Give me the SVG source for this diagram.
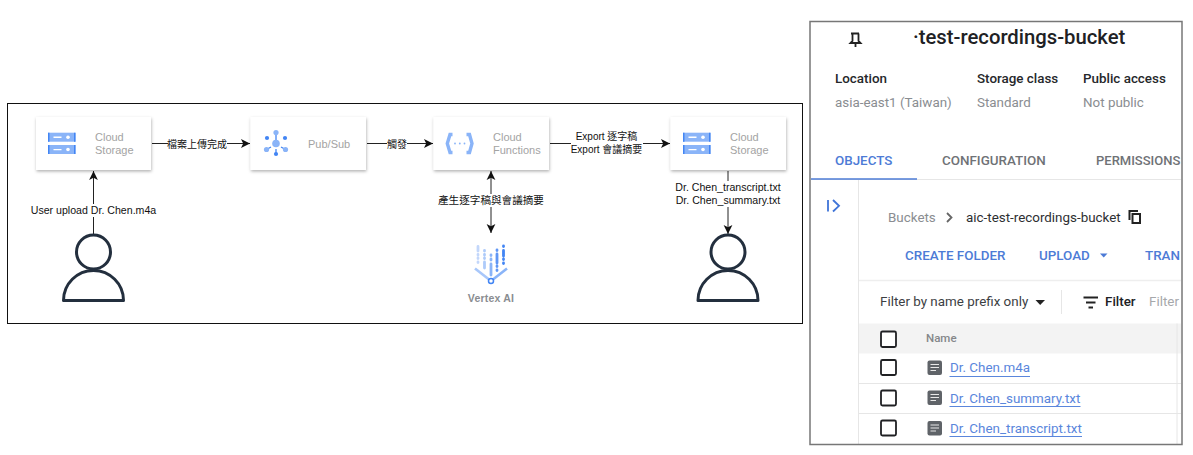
<svg xmlns="http://www.w3.org/2000/svg" width="1193" height="455" viewBox="0 0 1193 455">
<style>
text{font-family:"Liberation Sans","Noto Sans CJK TC",sans-serif}
.lab{font-size:10px;fill:#111;text-anchor:middle}
.lab2{font-size:10.6px;fill:#111;text-anchor:middle}
.nt{font-size:11px;fill:#a3a3a3}
.card{fill:#fff;filter:url(#sh)}
.cn{fill:none;stroke:#222;stroke-width:1}
.lb{fill:#fff}
.pers{fill:none;stroke:#232f3e;stroke-width:3;stroke-linejoin:round}
.r{font-family:Roboto,"Liberation Sans",sans-serif}
.h{font-size:13.4px;font-weight:500;fill:#26282b}
.v{font-size:13.4px;fill:#8a8d91}
.tab{font-size:13.4px;font-weight:500;fill:#6f7276}
.bl{font-size:13.4px;font-weight:500;fill:#4d7bd6}
.lnk{font-size:13.4px;fill:#5a86dc}
.cb{fill:#fff;stroke:#202124;stroke-width:1.800}
.rl{stroke:#e6e6e6;stroke-width:1;fill:none}
</style>
<defs>
<filter id="sh" x="-10%" y="-15%" width="120%" height="135%"><feDropShadow dx="0.5" dy="1.5" stdDeviation="1.6" flood-color="#000" flood-opacity=".3"/></filter>
<marker id="ah" markerUnits="userSpaceOnUse" markerWidth="10" markerHeight="10" refX="9" refY="5" orient="auto-start-reverse"><path d="M0 .6L9 5L0 9.400L2.200 5Z" fill="#111"/></marker>
<clipPath id="pc"><rect x="811" y="22" width="370" height="422"/></clipPath>
<symbol id="stor" viewBox="0 0 28 22" overflow="visible">
<rect x="0" y="0" width="27.5" height="9" fill="#8ab4f8"/><rect x="0" y="12.3" width="27.5" height="9" fill="#8ab4f8"/>
<path d="M0 0h1.5v9H0zM26 0h1.5v9H26zM0 12.3h1.5v9H0zM26 12.3h1.5v9H26z" fill="#4285f4"/>
<path d="M5.500 3.900h8v1.300h-8zM5.500 16.200h8v1.300h-8z" fill="#fff"/><circle cx="20" cy="4.500" r="1.800" fill="#fff"/><circle cx="20" cy="16.800" r="1.800" fill="#fff"/>
</symbol>
<symbol id="person" viewBox="0 0 66 70" overflow="visible">
<circle cx="33" cy="18" r="17" class="pers"/><path d="M3 66.500A30 30 0 0 1 63 66.500Z" class="pers"/>
</symbol>
</defs>
<rect width="1193" height="455" fill="#fff"/>
<rect id="frame" x="7.500" y="103.500" width="795" height="220" fill="#fff" stroke="#111" stroke-width="1"/>

<g id="connectors">
<path class="cn" marker-end="url(#ah)" d="M152 143.500H250"/>
<path class="cn" marker-end="url(#ah)" d="M367 143.500H433"/>
<path class="cn" marker-end="url(#ah)" d="M550 143.500H670"/>
<path class="cn" marker-end="url(#ah)" d="M93.500 234V171"/>
<path class="cn" marker-start="url(#ah)" marker-end="url(#ah)" d="M491 171V233"/>
<path class="cn" marker-end="url(#ah)" d="M728 171V234"/>
<rect class="lb" x="168" y="138" width="59" height="12"/>
<rect class="lb" x="387" y="138" width="20" height="12"/>
<rect class="lb" x="571" y="130" width="72" height="26"/>
<rect class="lb" x="30" y="204" width="127" height="13"/>
<rect class="lb" x="437" y="194" width="108" height="13"/>
<rect class="lb" x="674" y="181" width="108" height="26"/>
<text class="lab" x="197" y="148">檔案上傳完成</text>
<text class="lab" x="397" y="148">觸發</text>
<text class="lab" x="606.500" y="140">Export 逐字稿</text>
<text class="lab" x="606.500" y="153">Export 會議摘要</text>
<text class="lab2" x="93.500" y="214">User upload Dr. Chen.m4a</text>
<text class="lab2" x="491" y="204">產生逐字稿與會議摘要</text>
<text class="lab2" x="728" y="191">Dr. Chen_transcript.txt</text>
<text class="lab2" x="728" y="204">Dr. Chen_summary.txt</text>
</g>

<g id="storage-1">
<rect class="card" x="36" y="117" width="115" height="53"/>
<use href="#stor" x="48" y="132.700" width="28" height="22"/>
<text class="nt" x="95" y="141">Cloud</text><text class="nt" x="95" y="154">Storage</text>
</g>

<g id="pubsub">
<rect class="card" x="250.500" y="117" width="115.500" height="53"/>
<g stroke="#4285f4" stroke-width="1.300"><path d="M276 135V140M271 147L266.500 149.500M281 147L285.500 149.500M276 149V153"/></g>
<circle cx="276" cy="143.500" r="3.800" fill="#8ab4f8"/>
<circle cx="276" cy="132.500" r="2.600" fill="#8ab4f8"/>
<circle cx="267" cy="138" r="2.100" fill="#4285f4"/><circle cx="285" cy="138" r="2.100" fill="#4285f4"/>
<circle cx="266.500" cy="149.500" r="2.600" fill="#8ab4f8"/><circle cx="285.500" cy="149.500" r="2.600" fill="#8ab4f8"/>
<circle cx="276" cy="154" r="2.100" fill="#4285f4"/>
<text class="nt" x="308" y="147.500">Pub/Sub</text>
</g>

<g id="functions">
<rect class="card" x="433.500" y="117" width="115.500" height="53"/>
<path d="M452.500 134.500H450L447.300 143.500L450 152.500H452.500" fill="none" stroke="#8ab4f8" stroke-width="3.400"/>
<path d="M466.500 134.500H469.500L472 143.500L469.500 152.500H466.500" fill="none" stroke="#8ab4f8" stroke-width="3.400"/>
<g fill="#8ab4f8"><circle cx="455" cy="143.500" r=".9"/><circle cx="459.800" cy="143.500" r=".9"/><circle cx="464.500" cy="143.500" r=".9"/></g>
<text class="nt" x="493" y="141">Cloud</text><text class="nt" x="493" y="154">Functions</text>
</g>

<g id="storage-2">
<rect class="card" x="670.500" y="117" width="115.500" height="53"/>
<use href="#stor" x="683" y="132.700" width="28" height="22"/>
<text class="nt" x="730" y="141">Cloud</text><text class="nt" x="730" y="154">Storage</text>
</g>

<g id="vertex">
<path d="M475 268.500L491 281" fill="none" stroke="#a8c7fa" stroke-width="2.600"/>
<path d="M507 268.500L491 281" fill="none" stroke="#8ab4f8" stroke-width="2.600"/>
<circle cx="491" cy="281" r="2.500" fill="#fff" stroke="#4285f4" stroke-width="1.500"/>
<g stroke-linecap="round" fill="none">
<path d="M478 246.500V251M478 254.500V255M478 258V258.500M478 262V262.500" stroke="#c3d7fb" stroke-width="2.800"/>
<path d="M484.500 250.500V251M484.500 254.500V255M484.500 258V258.500M484.500 262V268" stroke="#aecbfa" stroke-width="2.800"/>
<path d="M491 255V255.500M491 259V260M491 264V275" stroke="#8ab4f8" stroke-width="2.800"/>
<path d="M497 250V250.500M497 254V263M497 266V266.500M497 270V270.500" stroke="#5f96f5" stroke-width="2.800"/>
<path d="M503.500 246V246.500M503.500 250.500V256M503.500 259V259.500M503.500 263V263.500" stroke="#4285f4" stroke-width="2.800"/>
</g>
<text x="491" y="301.500" text-anchor="middle" font-size="10.500" font-weight="700" fill="#8a8d91" letter-spacing=".2">Vertex AI</text>
</g>

<g id="user-1"><use href="#person" x="60.500" y="234" width="66" height="70"/></g>
<g id="user-2"><use href="#person" x="695" y="234" width="66" height="70"/></g>

<g id="console">
<g clip-path="url(#pc)">
<path d="M851 33.500H859M852.500 33.500V41L850.500 43H860.500L858.500 41V33.500M855.500 43V47" fill="none" stroke="#222" stroke-width="1.800"/>
<text class="r" x="913" y="43.500" font-size="20.300" font-weight="500" fill="#202124">·test-recordings-bucket</text>
<text class="r h" x="835" y="82.500">Location</text><text class="r h" x="977" y="82.500">Storage class</text><text class="r h" x="1083" y="82.500">Public access</text>
<text class="r v" x="835" y="107">asia-east1 (Taiwan)</text><text class="r v" x="977" y="107">Standard</text><text class="r v" x="1083" y="107">Not public</text>
<text class="r bl" x="835" y="165">OBJECTS</text><text class="r tab" x="942" y="165">CONFIGURATION</text><text class="r tab" x="1096" y="165" font-size="13" style="font-size:13px">PERMISSIONS</text>
<path class="rl" d="M811 179.500H1181M858.500 180V444"/>
<path d="M811 179H917" stroke="#4d7bd6" stroke-width="1.500"/>
<path d="M828 200V211.500M833 200L839 205.800L833 211.500" fill="none" stroke="#3f74d8" stroke-width="1.800"/>
<text class="r v" x="888" y="222">Buckets</text>
<path d="M947 213L951.500 217.500L947 222" fill="none" stroke="#666" stroke-width="1.800"/>
<text class="r" x="966" y="222" font-size="13.400" fill="#2d2f32">aic-test-recordings-bucket</text>
<path d="M1129.500 220V211H1138" fill="none" stroke="#222" stroke-width="2"/><rect x="1132.500" y="214" width="7.500" height="9" fill="none" stroke="#222" stroke-width="2"/>
<text class="r bl" x="905" y="260">CREATE FOLDER</text><text class="r bl" x="1039" y="260">UPLOAD</text>
<path d="M1100 253.500H1107.500L1103.700 257.500Z" fill="#4d7bd6"/>
<text class="r bl" x="1145" y="260">TRAN</text>
<path d="M859 280.500H1181" stroke="#eee" stroke-width="1.500"/>
<text class="r" x="880" y="306" font-size="13.400" fill="#3c4043">Filter by name prefix only</text>
<path d="M1035.500 300H1045L1040.200 305Z" fill="#222"/>
<path d="M1061.500 290V314" stroke="#e6e6e6"/>
<path d="M1083.500 297.500H1098M1086 302.500H1095.500M1088.500 307.500H1093" stroke="#222" stroke-width="2"/>
<text class="r" x="1105" y="306" font-size="13.400" font-weight="500" fill="#202124">Filter</text>
<text class="r" x="1149" y="306" font-size="13.400" fill="#a6a8ab">Filter</text>
<rect x="859" y="323.500" width="322" height="30" fill="#f3f3f3"/>
<path d="M1177 323.500V444" stroke="#e6e6e6"/>
<path class="rl" d="M859 383.500H1181M859 413.500H1181"/>
<rect class="cb" x="881" y="331.500" width="15" height="15.500" rx="1.500"/>
<text class="r" x="926" y="342" font-size="11.500" font-weight="500" fill="#85878a">Name</text>
<g id="row-1"><rect class="cb" x="881" y="360" width="15" height="15" rx="1.500"/><rect x="927.500" y="360.500" width="14.500" height="14.500" rx="2" fill="#5f6368"/><path d="M930.500 364.500H939M930.500 367.500H939M930.500 370.500H936" stroke="#e8e8e8"/><text class="r lnk" x="950" y="372">Dr. Chen.m4a</text><path d="M949.500 376.500H1030" stroke="#5a86dc"/></g>
<g id="row-2"><rect class="cb" x="881" y="390.500" width="15" height="15" rx="1.500"/><rect x="927.500" y="390.500" width="14.500" height="14.500" rx="2" fill="#5f6368"/><path d="M930.500 394.500H939M930.500 397.500H939M930.500 400.500H936" stroke="#e8e8e8"/><text class="r lnk" x="950" y="402.500">Dr. Chen_summary.txt</text><path d="M949.500 406.500H1080.500" stroke="#5a86dc"/></g>
<g id="row-3"><rect class="cb" x="881" y="420.500" width="15" height="15" rx="1.500"/><rect x="927.500" y="421" width="14.500" height="14.500" rx="2" fill="#5f6368"/><path d="M930.500 425H939M930.500 428H939M930.500 431H936" stroke="#e8e8e8"/><text class="r lnk" x="950" y="432.500">Dr. Chen_transcript.txt</text><path d="M949.500 436.500H1082" stroke="#5a86dc"/></g>
</g>
<rect x="810" y="21.500" width="372" height="423" fill="none" stroke="#777" stroke-width="1.500"/>
</g>
</svg>
